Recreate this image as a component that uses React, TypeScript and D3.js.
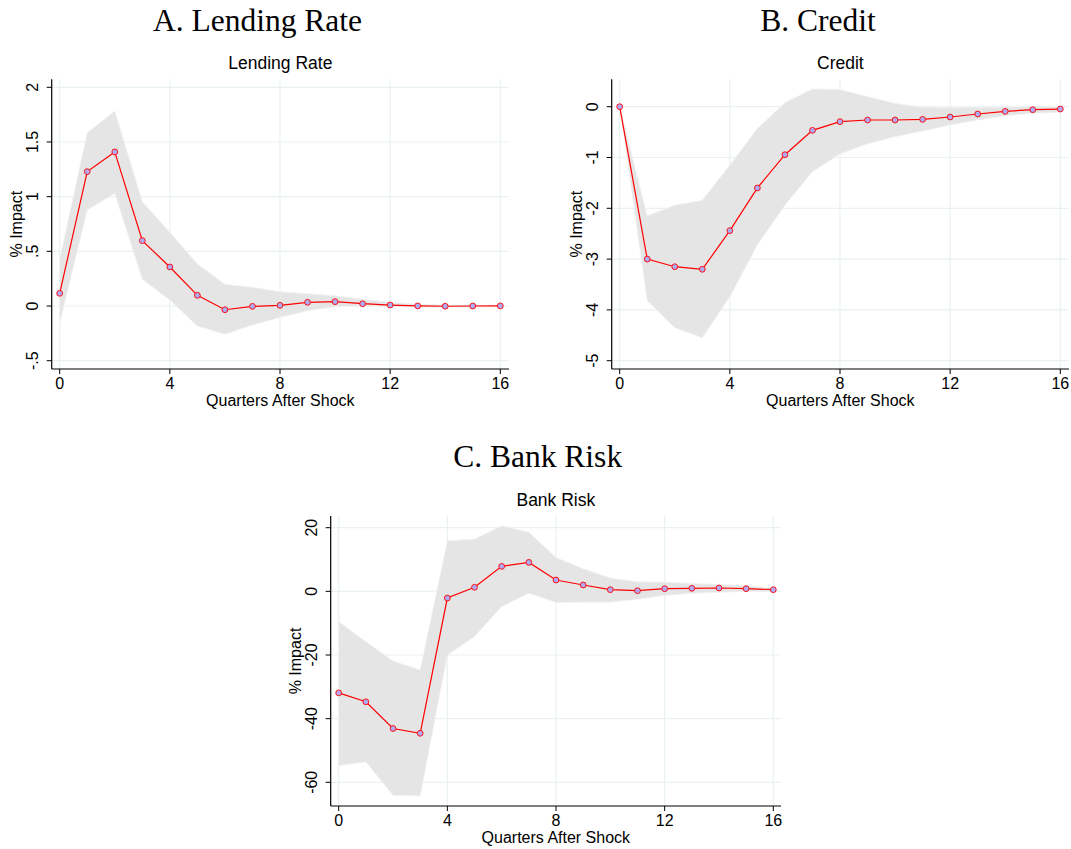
import React from "react";
import * as d3 from "d3";

const quarters = d3.range(0, 17);

// A. Lending Rate
const lendingMean = [0.116, 1.229, 1.409, 0.598, 0.357, 0.098, -0.034, -0.003, 0.006, 0.034, 0.04, 0.021, 0.009, 0.001, -0.002, 0.0, 0.001];
const lendingUpper = [0.43, 1.585, 1.783, 0.954, 0.674, 0.384, 0.198, 0.171, 0.131, 0.113, 0.095, 0.061, 0.034, 0.018, 0.01, 0.008, 0.007];
const lendingLower = [-0.16, 0.878, 1.03, 0.244, 0.055, -0.183, -0.259, -0.174, -0.104, -0.043, -0.006, 0.0, -0.004, -0.009, -0.01, -0.008, -0.007];
const lendingTicks = [-0.5, 0, 0.5, 1, 1.5, 2];
const lendingTickLabels = ["-.5", "0", ".5", "1", "1.5", "2"];

// B. Credit
const creditMean = [0, -3.0, -3.15, -3.2, -2.44, -1.6, -0.945, -0.466, -0.295, -0.262, -0.262, -0.249, -0.203, -0.144, -0.092, -0.059, -0.046];
const creditUpper = [0, -2.15, -1.94, -1.84, -1.15, -0.43, 0.08, 0.35, 0.34, 0.2, 0.066, -0.013, -0.02, -0.013, -0.007, -0.003, -0.002];
const creditLower = [0, -3.82, -4.35, -4.55, -3.74, -2.72, -1.94, -1.28, -0.93, -0.73, -0.59, -0.48, -0.36, -0.26, -0.18, -0.13, -0.11];
const creditTicks = [-5, -4, -3, -2, -1, 0];
const creditTickLabels = ["-5", "-4", "-3", "-2", "-1", "0"];

// C. Bank Risk
const riskMean = [-31.9, -34.7, -43.1, -44.6, -2.1, 1.26, 7.85, 9.1, 3.56, 2.0, 0.52, 0.21, 0.84, 0.94, 1.05, 0.84, 0.52];
const riskUpper = [-9.5, -15.8, -21.9, -24.7, 15.9, 16.4, 20.6, 18.6, 10.6, 7.1, 4.2, 3.0, 2.9, 2.5, 2.2, 1.8, 0.9];
const riskLower = [-54.7, -53.6, -64.1, -64.3, -20.0, -14.2, -4.8, -0.6, -3.5, -3.4, -3.4, -2.5, -1.3, -0.6, -0.3, 0.0, 0.1];
const riskTicks = [-60, -40, -20, 0, 20];
const riskTickLabels = ["-60", "-40", "-20", "0", "20"];

const xTicks = [0, 4, 8, 12, 16];
const xTickLabels = ["0", "4", "8", "12", "16"];

const SANS = "'Liberation Sans', Arial, sans-serif";
const SERIF = "'Liberation Serif', 'Times New Roman', serif";
const GRID = "#e9f1f2";

type PanelProps = {
  title: string;
  subtitle: string;
  titleX: number;
  titleY: number;
  left: number;
  right: number;
  top: number;
  bottom: number;
  xRange: [number, number];
  yDomain: [number, number];
  yRange: [number, number];
  mean: number[];
  upper: number[];
  lower: number[];
  yTicks: number[];
  yTickLabels: string[];
};

function Panel(p: PanelProps) {
  const x = d3.scaleLinear().domain([0, 16]).range(p.xRange);
  const y = d3.scaleLinear().domain(p.yDomain).range(p.yRange);
  const area = d3
    .area<number>()
    .x((_, i) => x(quarters[i]))
    .y0((_, i) => y(p.lower[i]))
    .y1((_, i) => y(p.upper[i]));
  const line = d3
    .line<number>()
    .x((_, i) => x(quarters[i]))
    .y((d) => y(d));
  const cx = (p.left + p.right) / 2;
  const cy = (p.top + p.bottom) / 2;
  return (
    <g>
      <text x={p.titleX} y={p.titleY} textAnchor="middle" fontFamily={SERIF} fontSize={31.5} fill="#000">
        {p.title}
      </text>
      <text x={cx} y={p.top - 10.5} textAnchor="middle" fontFamily={SANS} fontSize={17.5} fill="#000">
        {p.subtitle}
      </text>
      {p.yTicks.map((t) => (
        <line key={"gy" + t} x1={p.left} x2={p.right} y1={y(t)} y2={y(t)} stroke={GRID} strokeWidth={1.2} />
      ))}
      {xTicks.map((t) => (
        <line key={"gx" + t} x1={x(t)} x2={x(t)} y1={p.top} y2={p.bottom} stroke={GRID} strokeWidth={1.2} />
      ))}
      <path d={area(p.mean) || ""} fill="#e5e5e5" stroke="#f3f3f3" strokeWidth={0.8} />
      <path d={line(p.mean) || ""} fill="none" stroke="#ff0000" strokeWidth={1.2} />
      {p.mean.map((d, i) => (
        <circle key={i} cx={x(quarters[i])} cy={y(d)} r={2.9} fill="#aeaaf5" stroke="#ff1010" strokeWidth={1} />
      ))}
      <line x1={p.left} x2={p.left} y1={p.top} y2={p.bottom} stroke="#000" strokeWidth={1.2} />
      <line x1={p.left} x2={p.right} y1={p.bottom} y2={p.bottom} stroke="#000" strokeWidth={1.2} />
      {p.yTicks.map((t, i) => (
        <g key={"ty" + t}>
          <line x1={p.left - 5} x2={p.left} y1={y(t)} y2={y(t)} stroke="#000" strokeWidth={1} />
          <text
            transform={`translate(${p.left - 14.2},${y(t)}) rotate(-90)`}
            textAnchor="middle"
            fontFamily={SANS}
            fontSize={16}
            fill="#000"
          >
            {p.yTickLabels[i]}
          </text>
        </g>
      ))}
      {xTicks.map((t, i) => (
        <g key={"tx" + t}>
          <line x1={x(t)} x2={x(t)} y1={p.bottom} y2={p.bottom + 5} stroke="#000" strokeWidth={1} />
          <text x={x(t)} y={p.bottom + 20.3} textAnchor="middle" fontFamily={SANS} fontSize={16} fill="#000">
            {xTickLabels[i]}
          </text>
        </g>
      ))}
      <text x={cx} y={p.bottom + 36.7} textAnchor="middle" fontFamily={SANS} fontSize={16} fill="#000">
        Quarters After Shock
      </text>
      <text
        transform={`translate(${p.left - 30},${cy}) rotate(-90)`}
        textAnchor="middle"
        fontFamily={SANS}
        fontSize={16}
        fill="#000"
      >
        % Impact
      </text>
    </g>
  );
}

export default function App() {
  return (
    <svg
      width={1071}
      height={849}
      style={{ position: "absolute", left: 0, top: 0, background: "#fff" }}
    >
      <rect x={0} y={0} width={1071} height={849} fill="#fff" />
      <Panel
        title="A. Lending Rate"
        subtitle="Lending Rate"
        titleX={257.5}
        titleY={31}
        left={51.7}
        right={509}
        top={79.3}
        bottom={369}
        xRange={[59.7, 500.3]}
        yDomain={[-0.5, 2]}
        yRange={[360.7, 87.3]}
        mean={lendingMean}
        upper={lendingUpper}
        lower={lendingLower}
        yTicks={lendingTicks}
        yTickLabels={lendingTickLabels}
      />
      <Panel
        title="B. Credit"
        subtitle="Credit"
        titleX={818}
        titleY={31}
        left={611.7}
        right={1069}
        top={79.3}
        bottom={369}
        xRange={[619.7, 1060.3]}
        yDomain={[-5, 0]}
        yRange={[360.7, 106.7]}
        mean={creditMean}
        upper={creditUpper}
        lower={creditLower}
        yTicks={creditTicks}
        yTickLabels={creditTickLabels}
      />
      <Panel
        title="C. Bank Risk"
        subtitle="Bank Risk"
        titleX={537.7}
        titleY={467}
        left={330.7}
        right={781}
        top={516}
        bottom={806}
        xRange={[338.7, 773.3]}
        yDomain={[-60, 20]}
        yRange={[782.3, 527.7]}
        mean={riskMean}
        upper={riskUpper}
        lower={riskLower}
        yTicks={riskTicks}
        yTickLabels={riskTickLabels}
      />
    </svg>
  );
}
